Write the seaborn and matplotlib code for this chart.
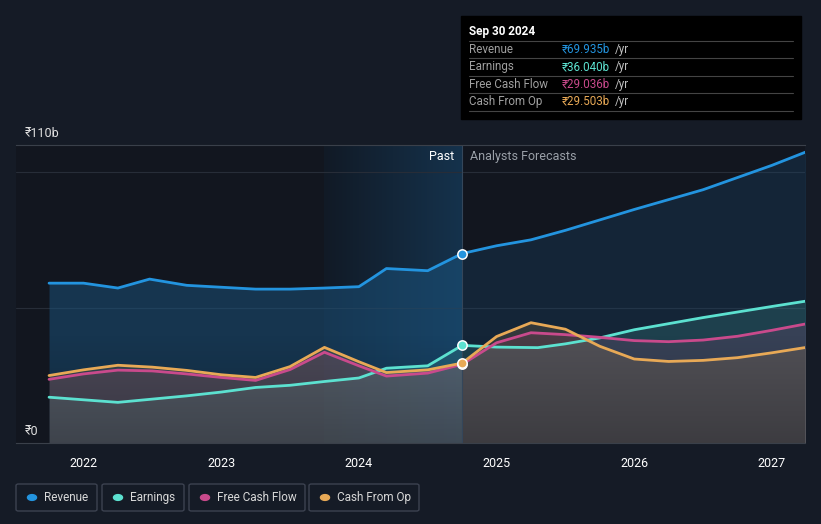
import numpy as np
import pandas as pd
import seaborn as sns
import matplotlib.pyplot as plt
from matplotlib.colors import LinearSegmentedColormap
from matplotlib.patches import Rectangle, FancyBboxPatch

# decimal years, values in ₹ billions
rev_t = [2021.75, 2022.0, 2022.25, 2022.48, 2022.75, 2023.0, 2023.25, 2023.5, 2023.75, 2024.0,
         2024.1, 2024.2, 2024.5, 2024.75, 2025.0, 2025.25, 2025.5, 2026.0, 2026.5, 2027.0, 2027.25]
rev_v = [59.0, 59.0, 57.2, 60.5, 58.2, 57.5, 56.8, 56.8, 57.2, 57.7,
         61.0, 64.4, 63.6, 69.935, 72.8, 75.0, 78.5, 86.2, 93.5, 102.5, 107.5]

earn_t = [2021.75, 2022.25, 2022.5, 2022.75, 2023.0, 2023.25, 2023.5, 2023.75, 2024.0, 2024.2,
          2024.5, 2024.75, 2025.0, 2025.3, 2025.5, 2025.75, 2026.0, 2026.5, 2027.0, 2027.25]
earn_v = [16.9, 15.0, 16.2, 17.4, 18.8, 20.5, 21.3, 22.7, 24.0, 27.6,
          28.5, 36.04, 35.4, 35.2, 36.6, 38.8, 41.8, 46.3, 50.4, 52.4]

fcf_t = [2021.75, 2022.0, 2022.25, 2022.5, 2022.75, 2023.0, 2023.25, 2023.5, 2023.75, 2024.0,
         2024.2, 2024.5, 2024.75, 2025.0, 2025.25, 2025.5, 2025.75, 2026.0, 2026.25, 2026.5,
         2026.75, 2027.0, 2027.25]
fcf_v = [23.5, 25.5, 26.9, 26.6, 25.5, 24.2, 23.1, 27.1, 33.5, 28.5,
         24.7, 25.8, 29.036, 37.0, 40.7, 40.0, 39.0, 37.8, 37.4, 38.0,
         39.4, 41.6, 44.0]

cfo_t = fcf_t
cfo_v = [24.9, 27.0, 28.7, 28.0, 26.8, 25.2, 24.2, 28.2, 35.3, 30.0,
         26.0, 27.0, 29.503, 39.3, 44.4, 42.0, 35.7, 31.0, 30.1, 30.5,
         31.5, 33.3, 35.3]

years = [2022, 2023, 2024, 2025, 2026, 2027]
names = ['Revenue', 'Earnings', 'Free Cash Flow', 'Cash From Op']
colors = ['#2394df', '#5ce1d0', '#c94a8c', '#e8a956']
now_t = 2024.75
tip_vals = ['₹69.935b', '₹36.040b', '₹29.036b', '₹29.503b']

df = pd.concat([
    pd.DataFrame({'t': rev_t, 'v': rev_v, 'series': 'Revenue'}),
    pd.DataFrame({'t': earn_t, 'v': earn_v, 'series': 'Earnings'}),
    pd.DataFrame({'t': fcf_t, 'v': fcf_v, 'series': 'Free Cash Flow'}),
    pd.DataFrame({'t': cfo_t, 'v': cfo_v, 'series': 'Cash From Op'}),
])

sns.set_style('dark')
plt.rcParams['font.family'] = ['Roboto', 'DejaVu Sans']

bg = '#151b26'
fig = plt.figure(figsize=(8.21, 5.24), dpi=100, facecolor=bg)
W, H = 821, 524
ax = fig.add_axes([16 / W, (H - 443) / H, (805 - 16) / W, (443 - 145) / H])
ax.set_facecolor('#12161f')
ax.set_xlim(2021.51, 2027.24)
ax.set_ylim(0, 110)

# last-year highlight band with gradient
grad = np.linspace(0, 1, 200).reshape(1, -1)
band_cmap = LinearSegmentedColormap.from_list('band', ['#111a26', '#15324c'])
ax.imshow(grad, extent=[2023.75, now_t, 0, 110], aspect='auto', cmap=band_cmap, zorder=0.5)

# gridlines
for g in [50, 100]:
    ax.axhline(g, color='#272d38', lw=0.8, zorder=1)

# fills
rt = np.array(rev_t)
rv = np.array(rev_v)
ax.fill_between(rt, 0, rv, where=rt <= now_t + 1e-9, color='#1b5580', alpha=0.5, lw=0, zorder=1.2)
ax.fill_between(rt, 0, rv, where=rt >= now_t - 1e-9, color='#1b4a70', alpha=0.3, lw=0, zorder=1.2)
for tt, vv, c in [(earn_t, earn_v, colors[1]), (fcf_t, fcf_v, colors[2]), (cfo_t, cfo_v, colors[3])]:
    ax.fill_between(tt, 0, vv, color=c, alpha=0.15, lw=0, zorder=1.3)

# darken fills toward the bottom
shade = np.linspace(0, 1, 200).reshape(-1, 1)
shade_cmap = LinearSegmentedColormap.from_list('shade', [(0, 0, 0, 0), (0, 0, 0, 0.25)])
ax.imshow(shade, extent=[2021.75, 2027.25, 0, 40], aspect='auto', cmap=shade_cmap, origin='upper', zorder=1.5)

sns.lineplot(data=df, x='t', y='v', hue='series', hue_order=names, palette=colors,
             lw=2.0, ax=ax, legend=False, zorder=3, sort=False)

ax.axvline(now_t, color='#34465a', lw=0.8, zorder=2)

# markers at the current date
for tt, vv, c in [(rev_t, rev_v, colors[0]), (earn_t, earn_v, colors[1]),
                  (fcf_t, fcf_v, colors[2]), (cfo_t, cfo_v, colors[3])]:
    ax.scatter([now_t], [vv[tt.index(now_t)]], s=45, color=c, edgecolor='white', lw=1.1, zorder=4)

for s in ['left', 'right']:
    ax.spines[s].set_visible(False)
ax.spines['top'].set_color('#3a404a')
ax.spines['bottom'].set_color('#3a404a')
ax.set_xticks(years)
ax.set_xticklabels([str(y) for y in years])
ax.tick_params(axis='x', colors='#3a404a', labelcolor='white', labelsize=9, length=4, width=0.8, pad=6)
ax.set_yticks([])
ax.set_xlabel('')
ax.set_ylabel('')
ax.grid(False)
ax.set_xlim(2021.51, 2027.24)
ax.set_ylim(0, 110)

ax.text(0.011, 1.04, '₹110b', transform=ax.transAxes, color='#e0e0e0', fontsize=9, va='center')
ax.text(0.011, 0.04, '₹0', transform=ax.transAxes, color='#e0e0e0', fontsize=9, va='center')
ax.text(now_t - 0.06, 105.6, 'Past', color='white', fontsize=9, ha='right', va='center')
ax.text(now_t + 0.06, 105.6, 'Analysts Forecasts', color='#9aa0a8', fontsize=9, ha='left', va='center')


def fx(px):
    return px / W


def fy(py):
    return 1 - py / H


# tooltip
fig.patches.append(Rectangle((fx(461), fy(119)), fx(801) - fx(461), fy(16) - fy(119),
                             transform=fig.transFigure, color='black', zorder=5))
fig.text(fx(469), fy(31), 'Sep 30 2024', color='white', fontsize=8.5, fontweight='bold', va='center', zorder=6)
for y in [41, 58, 76, 93, 111]:
    fig.lines.append(plt.Line2D([fx(469), fx(793)], [fy(y), fy(y)], transform=fig.transFigure,
                                color='#444', lw=0.8, zorder=6))
for i, (n, v, c) in enumerate(zip(names, tip_vals, colors)):
    yy = fy(49.5 + i * 17.3)
    fig.text(fx(469), yy, n, color='#a0a0a0', fontsize=8.4, va='center', zorder=6)
    fig.text(fx(562), yy, v, color=c, fontsize=8.4, va='center', zorder=6)
    fig.text(fx(562 + 6.3 * len(v) + 2), yy, '/yr', color='#c0c0c0', fontsize=8.4, va='center', zorder=6)

# legend boxes
boxes = [(16, 97), (102, 184), (189, 305), (309, 419)]
for (l, r), n, c in zip(boxes, names, colors):
    fig.patches.append(FancyBboxPatch((fx(l), fy(511)), fx(r) - fx(l), fy(484) - fy(511),
                                      boxstyle='round,pad=0,rounding_size=0.003', transform=fig.transFigure,
                                      facecolor=bg, edgecolor='#3c4250', lw=1))
    fig.patches.append(plt.Circle((fx(l + 16), fy(497.5)), 0.0055, transform=fig.transFigure, color=c))
    fig.text(fx(l + 28), fy(497.5), n, color='#d8d8d8', fontsize=8.5, va='center')

fig.savefig('out.png', dpi=100, facecolor=bg)
